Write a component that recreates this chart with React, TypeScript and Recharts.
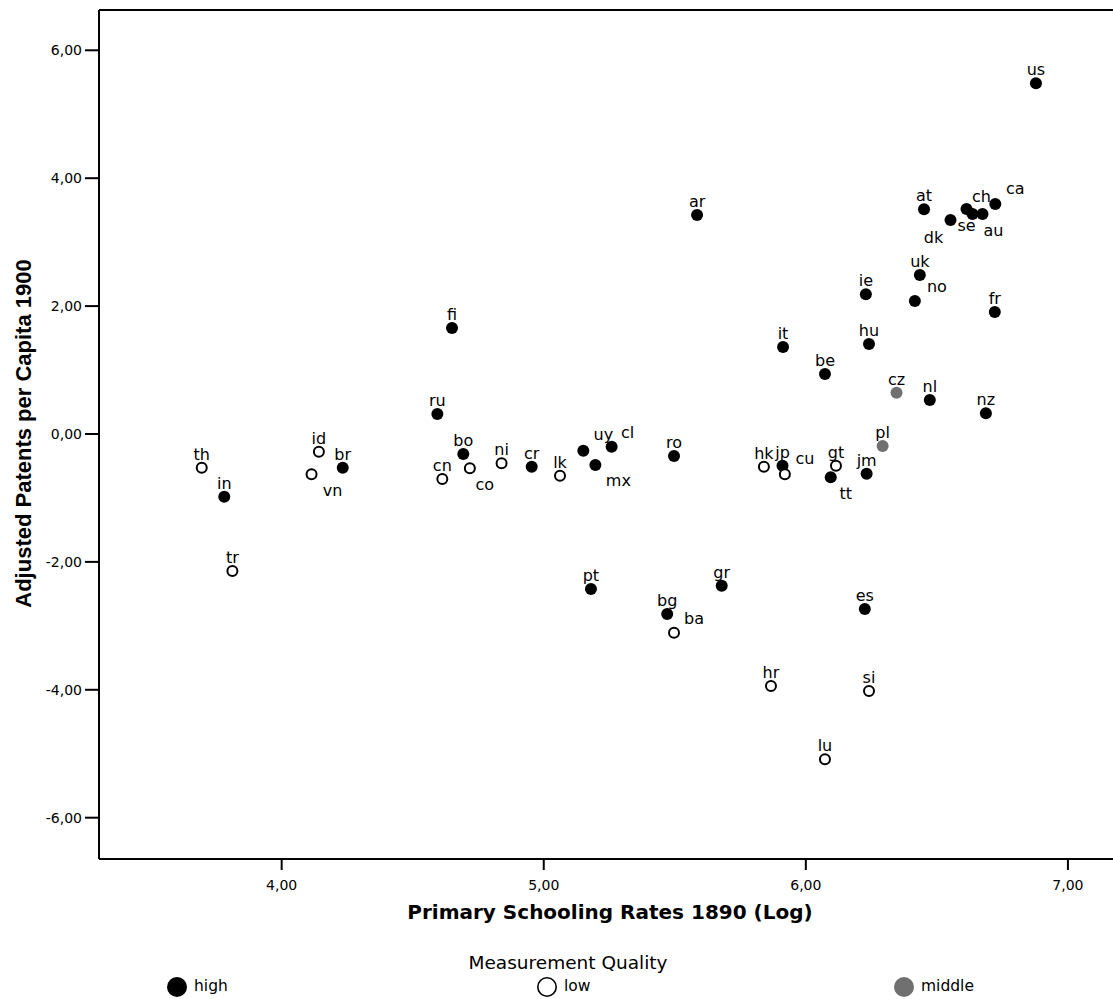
import React from "react";
import {
  ScatterChart,
  Scatter,
  XAxis,
  YAxis,
  ReferenceLine,
  Legend,
  Label,
} from "recharts";

type Country = { code: string; school: number; patents: number };

// measurement quality: high
const HIGH: Country[] = [
  { code: "us", school: 6.878, patents: 5.484 },
  { code: "at", school: 6.451, patents: 3.514 },
  { code: "ch", school: 6.613, patents: 3.519 },
  { code: "se", school: 6.636, patents: 3.44 },
  { code: "au", school: 6.674, patents: 3.44 },
  { code: "ca", school: 6.723, patents: 3.596 },
  { code: "dk", school: 6.552, patents: 3.346 },
  { code: "uk", school: 6.435, patents: 2.486 },
  { code: "ie", school: 6.229, patents: 2.184 },
  { code: "no", school: 6.416, patents: 2.08 },
  { code: "fr", school: 6.721, patents: 1.908 },
  { code: "ar", school: 5.585, patents: 3.425 },
  { code: "fi", school: 4.65, patents: 1.658 },
  { code: "it", school: 5.913, patents: 1.36 },
  { code: "hu", school: 6.241, patents: 1.407 },
  { code: "be", school: 6.073, patents: 0.938 },
  { code: "nl", school: 6.473, patents: 0.532 },
  { code: "nz", school: 6.687, patents: 0.324 },
  { code: "ru", school: 4.594, patents: 0.313 },
  { code: "in", school: 3.781, patents: -0.981 },
  { code: "br", school: 4.233, patents: -0.527 },
  { code: "bo", school: 4.693, patents: -0.313 },
  { code: "cr", school: 4.954, patents: -0.511 },
  { code: "uy", school: 5.151, patents: -0.261 },
  { code: "cl", school: 5.259, patents: -0.198 },
  { code: "mx", school: 5.197, patents: -0.485 },
  { code: "ro", school: 5.497, patents: -0.344 },
  { code: "jp", school: 5.911, patents: -0.496 },
  { code: "tt", school: 6.095, patents: -0.678 },
  { code: "jm", school: 6.232, patents: -0.621 },
  { code: "pt", school: 5.18, patents: -2.424 },
  { code: "bg", school: 5.471, patents: -2.815 },
  { code: "gr", school: 5.679, patents: -2.372 },
  { code: "es", school: 6.225, patents: -2.736 },
];

// measurement quality: low
const LOW: Country[] = [
  { code: "th", school: 3.695, patents: -0.527 },
  { code: "tr", school: 3.812, patents: -2.142 },
  { code: "id", school: 4.142, patents: -0.277 },
  { code: "vn", school: 4.114, patents: -0.63 },
  { code: "cn", school: 4.613, patents: -0.704 },
  { code: "co", school: 4.718, patents: -0.537 },
  { code: "ni", school: 4.839, patents: -0.459 },
  { code: "lk", school: 5.062, patents: -0.652 },
  { code: "hk", school: 5.84, patents: -0.511 },
  { code: "cu", school: 5.92, patents: -0.63 },
  { code: "gt", school: 6.115, patents: -0.496 },
  { code: "ba", school: 5.497, patents: -3.107 },
  { code: "hr", school: 5.867, patents: -3.94 },
  { code: "si", school: 6.241, patents: -4.019 },
  { code: "lu", school: 6.073, patents: -5.088 },
];

// measurement quality: middle
const MIDDLE: Country[] = [
  { code: "cz", school: 6.346, patents: 0.645 },
  { code: "pl", school: 6.293, patents: -0.188 },
];

const X_TICKS = [4, 5, 6, 7];
const Y_TICKS = [-6, -4, -2, 0, 2, 4, 6];
const X_DOMAIN: [number, number] = [3.303, 7.172];
const Y_DOMAIN: [number, number] = [-6.646, 6.63];

const QUALITIES = ["high", "low", "middle"];

const FONT = "'DejaVu Sans', sans-serif";
const GREY = "#707070";

// where a point label sits relative to its dot (text centre x, baseline y)
const LABEL_OFFSETS: Record<string, [number, number]> = {
  vn: [21, 22],
  co: [15, 22],
  mx: [23, 21],
  tt: [15, 22],
  cu: [20, -10],
  cl: [16, -9],
  uy: [20, -11],
  ba: [20, -9],
  no: [22, -9],
  ca: [20, -10],
  ch: [15, -7],
  dk: [-17, 23],
  se: [-6, 17],
  au: [11, 22],
};

const fmt = (v: number) => v.toFixed(2).replace(".", ",");

const makeDot = (kind: string) => (props: any) => {
  const { cx, cy, payload } = props;
  if (cx == null || cy == null) return <g />;
  const [dx, dy] = LABEL_OFFSETS[payload.code] ?? [0, -8];
  return (
    <g>
      {kind === "low" ? (
        <circle cx={cx} cy={cy} r={5} fill="#fff" stroke="#000" strokeWidth={2} />
      ) : (
        <circle cx={cx} cy={cy} r={6} fill={kind === "high" ? "#000" : GREY} />
      )}
      <text
        x={cx + dx}
        y={cy + dy}
        textAnchor="middle"
        fontSize={16}
        fontFamily={FONT}
        fill="#000"
      >
        {payload.code}
      </text>
    </g>
  );
};

const XTitle = (props: any) => {
  const vb = props.viewBox;
  return (
    <text
      x={vb.x + vb.width / 2 + 4}
      y={vb.y + 60}
      textAnchor="middle"
      fontSize={20}
      fontWeight="bold"
      fontFamily={FONT}
      fill="#000"
    >
      Primary Schooling Rates 1890 (Log)
    </text>
  );
};

const YTitle = (props: any) => {
  const vb = props.viewBox;
  const cy = vb.y + vb.height / 2 - 1;
  return (
    <text
      transform={`translate(30.5, ${cy}) rotate(-90)`}
      textAnchor="middle"
      fontSize={22}
      fontWeight="bold"
      fontFamily="'Liberation Sans', Arial, sans-serif"
      fill="#000"
    >
      Adjusted Patents per Capita 1900
    </text>
  );
};

const legendX = [177, 547, 904];

const renderLegend = () => (
  <div style={{ height: 59, width: 1113 }}>
    <svg width={1113} height={59} style={{ display: "block" }}>
      <text x={568} y={29} textAnchor="middle" fontSize={18.5} fontFamily={FONT} fill="#000">
        Measurement Quality
      </text>
      {QUALITIES.map((q, i) => (
        <g key={q}>
          {q === "low" ? (
            <circle cx={legendX[i]} cy={47} r={9.2} fill="#fff" stroke="#000" strokeWidth={1.6} />
          ) : (
            <circle cx={legendX[i]} cy={47} r={10} fill={q === "high" ? "#000" : GREY} />
          )}
          <text x={legendX[i] + 17} y={51} fontSize={15.5} fontFamily={FONT} fill="#000">
            {q}
          </text>
        </g>
      ))}
    </svg>
  </div>
);

export default function App() {
  const tick = { fill: "#000", fontSize: 14, fontFamily: FONT };
  return (
    <div
      style={{
        position: "absolute",
        left: 0,
        top: 0,
        width: 1113,
        height: 999,
        overflow: "hidden",
        background: "#fff",
      }}
    >
      <ScatterChart width={1113} height={999} margin={{ top: 10, right: 0, bottom: 0, left: 0 }}>
        <XAxis
          type="number"
          dataKey="school"
          domain={X_DOMAIN}
          ticks={X_TICKS}
          allowDataOverflow
          tickFormatter={fmt}
          tickSize={11}
          tickMargin={10}
          axisLine={{ stroke: "#000", strokeWidth: 2 }}
          tickLine={{ stroke: "#000", strokeWidth: 2 }}
          tick={tick}
          height={81}
        >
          <Label content={XTitle} />
        </XAxis>
        <YAxis
          type="number"
          dataKey="patents"
          domain={Y_DOMAIN}
          ticks={Y_TICKS}
          allowDataOverflow
          tickFormatter={fmt}
          tickSize={14}
          tickMargin={3}
          axisLine={{ stroke: "#000", strokeWidth: 2 }}
          tickLine={{ stroke: "#000", strokeWidth: 2 }}
          tick={tick}
          width={99}
        >
          <Label content={YTitle} />
        </YAxis>
        <ReferenceLine y={Y_DOMAIN[1]} stroke="#000" strokeWidth={2} />
        <Legend verticalAlign="bottom" content={renderLegend} />
        <Scatter name="high" data={HIGH} shape={makeDot("high")} isAnimationActive={false} />
        <Scatter name="low" data={LOW} shape={makeDot("low")} isAnimationActive={false} />
        <Scatter name="middle" data={MIDDLE} shape={makeDot("middle")} isAnimationActive={false} />
      </ScatterChart>
    </div>
  );
}
